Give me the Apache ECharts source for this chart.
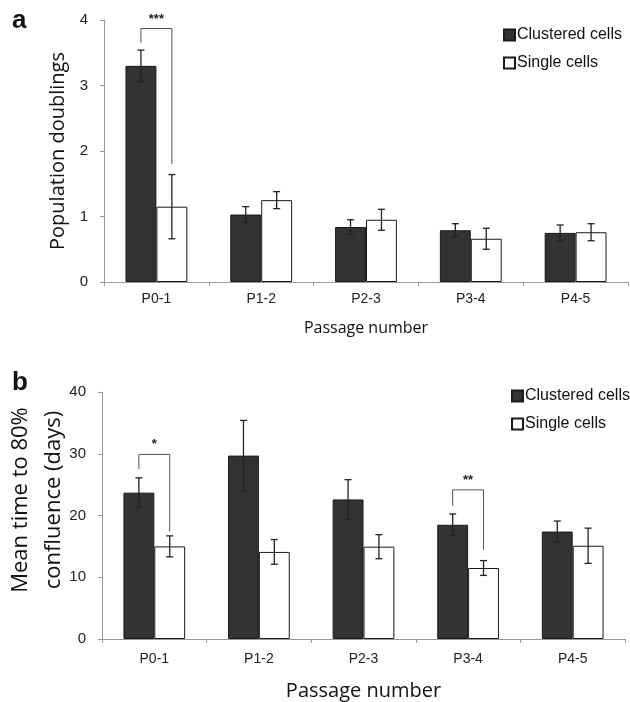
<!DOCTYPE html>
<html>
<head>
<meta charset="utf-8">
<script src="https://cdn.jsdelivr.net/npm/echarts@6/dist/echarts.min.js"></script>
<style>
  html, body { margin: 0; padding: 0; background: #fff; }
  #chart { width: 630px; height: 702px; }
</style>
</head>
<body>
<div id="chart"></div>
<script>
const categories = ["P0-1", "P1-2", "P2-3", "P3-4", "P4-5"];

// panel a: population doublings
const doublingsClustered = [3.3, 1.03, 0.84, 0.79, 0.75];
const doublingsClusteredErr = [0.24, 0.12, 0.11, 0.1, 0.12];
const doublingsSingle = [1.15, 1.25, 0.95, 0.66, 0.76];
const doublingsSingleErr = [0.49, 0.13, 0.16, 0.16, 0.13];

// panel b: mean time to 80% confluence (days)
const confluenceClustered = [23.7, 29.7, 22.6, 18.5, 17.4];
const confluenceClusteredErr = [2.4, 5.7, 3.2, 1.75, 1.7];
const confluenceSingle = [15.0, 14.1, 14.95, 11.5, 15.1];
const confluenceSingleErr = [1.7, 2.0, 1.95, 1.2, 2.85];

// significance brackets: [category, top, left leg end, right leg end]
const doublingsBrackets = [[0, 3.87, 3.65, 1.8]];
const doublingsBracketLabels = ["***"];
const confluenceBrackets = [
  [0, 29.9, 27.5, 17.4],
  [3, 24.15, 21.6, 14.45],
];
const confluenceBracketLabels = ["*", "**"];

const gap = 0.41;
const tickFont = "Liberation Sans";
const nameFont = "Open Sans";

function barWidth(api) {
  return (api.size([1, 0])[0] * (1 - gap)) / 2;
}

function errorSeries(values, errs, side, axisIndex) {
  return {
    type: "custom",
    xAxisIndex: axisIndex,
    yAxisIndex: axisIndex,
    z: 5,
    silent: true,
    data: values.map((v, i) => [i, v, errs[i]]),
    renderItem: (params, api) => {
      const i = api.value(0);
      const v = api.value(1);
      const e = api.value(2);
      const off = (side * barWidth(api)) / 2;
      const hi = api.coord([i, v + e]);
      const lo = api.coord([i, v - e]);
      const x = hi[0] + off;
      const cap = 3.5;
      const style = { stroke: "#222", lineWidth: 1.3 };
      return {
        type: "group",
        children: [
          { type: "line", shape: { x1: x, y1: hi[1], x2: x, y2: lo[1] }, style },
          { type: "line", shape: { x1: x - cap, y1: hi[1], x2: x + cap, y2: hi[1] }, style },
          { type: "line", shape: { x1: x - cap, y1: lo[1], x2: x + cap, y2: lo[1] }, style },
        ],
      };
    },
  };
}

function bracketSeries(brackets, labels, axisIndex) {
  return {
    type: "custom",
    xAxisIndex: axisIndex,
    yAxisIndex: axisIndex,
    z: 6,
    silent: true,
    data: brackets,
    renderItem: (params, api) => {
      const i = api.value(0);
      const off = barWidth(api) / 2;
      const top = api.coord([i, api.value(1)]);
      const l = api.coord([i, api.value(2)]);
      const r = api.coord([i, api.value(3)]);
      const xl = top[0] - off;
      const xr = top[0] + off;
      return {
        type: "group",
        children: [
          {
            type: "polyline",
            shape: { points: [[xl, l[1]], [xl, top[1]], [xr, top[1]], [xr, r[1]]] },
            style: { stroke: "#555", lineWidth: 1, fill: null },
          },
          {
            type: "text",
            style: {
              text: labels[params.dataIndex],
              x: (xl + xr) / 2,
              y: top[1] - 3,
              align: "center",
              verticalAlign: "bottom",
              font: "bold 13px " + tickFont,
              fill: "#222",
            },
          },
        ],
      };
    },
  };
}

function barSeries(name, values, dark, axisIndex) {
  return {
    name: name,
    type: "bar",
    xAxisIndex: axisIndex,
    yAxisIndex: axisIndex,
    data: values,
    barGap: "0%",
    barCategoryGap: gap * 100 + "%",
    itemStyle: {
      color: dark ? "#333333" : "#ffffff",
      borderColor: "#1a1a1a",
      borderWidth: 1,
    },
    emphasis: { disabled: true },
  };
}

function xAxis(gridIndex, labelSize, labelMargin, nameSize, nameGap) {
  return {
    type: "category",
    gridIndex: gridIndex,
    data: categories,
    axisLine: { lineStyle: { color: "#999", width: 1 } },
    axisTick: { show: true, length: 4, lineStyle: { color: "#999" } },
    axisLabel: { fontFamily: tickFont, fontSize: labelSize, color: "#222", margin: labelMargin },
    name: "Passage number",
    nameLocation: "middle",
    nameGap: nameGap,
    nameTextStyle: { fontFamily: nameFont, fontSize: nameSize, color: "#111" },
  };
}

function yAxis(gridIndex, max, interval) {
  return {
    type: "value",
    gridIndex: gridIndex,
    min: 0,
    max: max,
    interval: interval,
    splitLine: { show: false },
    axisLine: { show: true, lineStyle: { color: "#999", width: 1 } },
    axisTick: { show: true, length: 4, lineStyle: { color: "#999" } },
    axisLabel: { fontFamily: tickFont, fontSize: 15, color: "#222", margin: 16 },
  };
}

function legend(top, left) {
  return {
    orient: "vertical",
    top: top,
    left: left,
    icon: "rect",
    itemWidth: 11,
    itemHeight: 11,
    itemGap: 12,
    textStyle: { fontFamily: tickFont, fontSize: 16, color: "#111", padding: [0, 0, 0, -3] },
    data: ["Clustered cells", "Single cells"],
    selectedMode: false,
  };
}

const chart = echarts.init(document.getElementById("chart"));

const yA = yAxis(0, 4, 1);
yA.name = "Population doublings";
yA.nameLocation = "middle";
yA.nameGap = 36;
yA.nameTextStyle = { fontFamily: nameFont, fontSize: 20, color: "#111" };

chart.setOption({
  animation: false,
  grid: [
    { left: 104, right: 2, top: 20, height: 262 },
    { left: 102, right: 5, top: 392, height: 250 },
  ],
  legend: [legend(22, 498), legend(383, 506)],
  xAxis: [xAxis(0, 14, 10, 16, 38), xAxis(1, 14, 13, 20, 42)],
  yAxis: [yA, yAxis(1, 40, 10)],
  graphic: [
    { type: "text", left: 12, top: 8, style: { text: "a", font: "bold 26px " + tickFont, fill: "#111" } },
    { type: "text", left: 12, top: 370, style: { text: "b", font: "bold 26px " + tickFont, fill: "#111" } },
    {
      type: "text",
      x: 37,
      y: 500,
      rotation: Math.PI / 2,
      style: {
        text: "Mean time to 80%\nconfluence (days)",
        font: "22px " + nameFont,
        lineHeight: 33,
        align: "center",
        verticalAlign: "middle",
        fill: "#111",
      },
    },
  ],
  series: [
    barSeries("Clustered cells", doublingsClustered, true, 0),
    barSeries("Single cells", doublingsSingle, false, 0),
    errorSeries(doublingsClustered, doublingsClusteredErr, -1, 0),
    errorSeries(doublingsSingle, doublingsSingleErr, 1, 0),
    bracketSeries(doublingsBrackets, doublingsBracketLabels, 0),
    barSeries("Clustered cells", confluenceClustered, true, 1),
    barSeries("Single cells", confluenceSingle, false, 1),
    errorSeries(confluenceClustered, confluenceClusteredErr, -1, 1),
    errorSeries(confluenceSingle, confluenceSingleErr, 1, 1),
    bracketSeries(confluenceBrackets, confluenceBracketLabels, 1),
  ],
});
</script>
</body>
</html>
